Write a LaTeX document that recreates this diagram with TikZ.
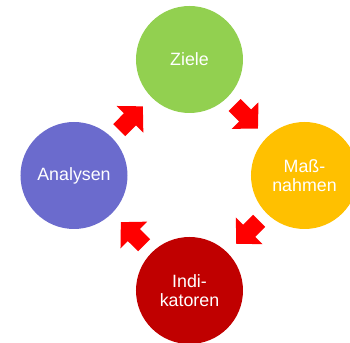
\documentclass[tikz,border=0pt]{standalone}
\usepackage{fontspec}
\setmainfont{Liberation Sans}
\usepackage{tikz}
\usetikzlibrary{arrows.meta, positioning}
\definecolor{zielgreen}{RGB}{146,208,80}
\definecolor{massorange}{RGB}{255,192,0}
\definecolor{indired}{RGB}{192,0,0}
\definecolor{analblue}{RGB}{107,107,205}

\begin{document}
\begin{tikzpicture}[x=0.3mm,y=-0.3mm,->,>={Triangle[width=11mm,length=5.5mm]},
  main node/.style={circle,fill,draw=none,inner sep=0pt,minimum size=32.1mm,
  text=white,align=center,font=\fontsize{15.2}{15.8}\selectfont},
  flow/.style={color=red,line width=5.1mm,shorten <=3.1mm,shorten >=3.7mm}]
  \useasboundingbox (0,0) rectangle (350,343);

  \node[main node,fill=zielgreen] (Z) at (189.5,59.5) {Ziele};
  \node[main node,fill=massorange] (M) at (304.5,175.5) {Maß-\\nahmen};
  \node[main node,fill=indired] (I) at (189.5,290.5) {Indi-\\katoren};
  \node[main node,fill=analblue] (A) at (74,175.5) {Analysen};

  % the cycle, clockwise
  \path[flow]
     (Z) edge (M)
     (M) edge (I)
     (I) edge (A)
     (A) edge (Z);
\end{tikzpicture}
\end{document}
